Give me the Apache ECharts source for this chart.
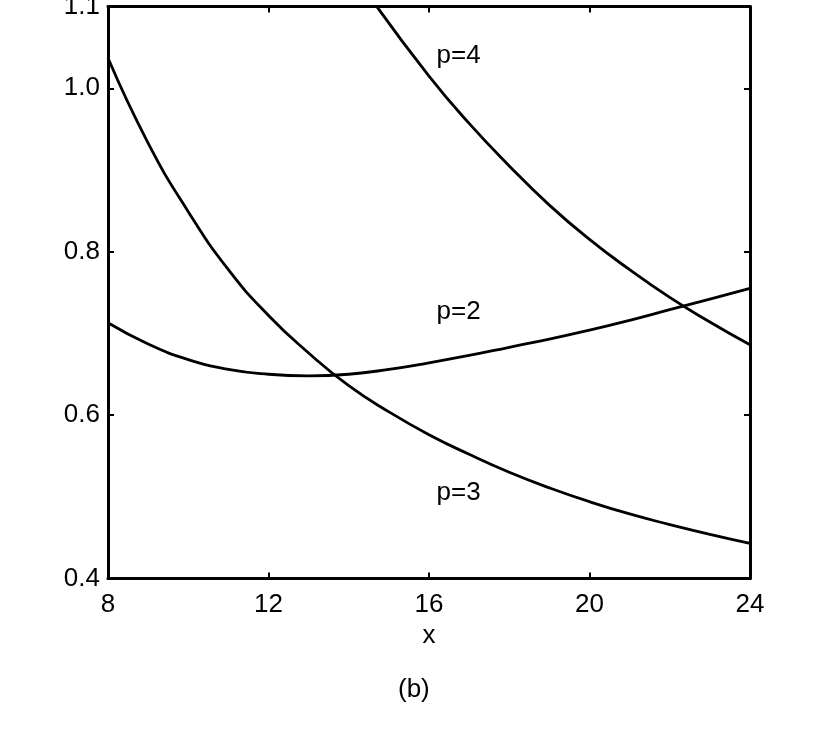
<!DOCTYPE html>
<html>
<head>
<meta charset="utf-8">
<script src="https://cdn.jsdelivr.net/npm/echarts@6/dist/echarts.min.js"></script>
<style>
html,body{margin:0;padding:0;background:#fff;}
#chart{width:828px;height:752px;}
</style>
</head>
<body>
<div id="chart"></div>
<script>
// x values and series values
var xP2 = [8, 9, 10, 11, 12, 13, 14, 15, 16, 17, 18, 19, 20, 21, 22, 23, 24];
var yP2 = [0.713, 0.687, 0.668, 0.656, 0.650, 0.648, 0.650, 0.656, 0.664, 0.673, 0.683, 0.693, 0.704, 0.716, 0.729, 0.742, 0.755];

var xP3 = [8, 9, 10, 11, 12, 13, 14, 15, 16, 17, 18, 19, 20, 21, 22, 23, 24];
var yP3 = [1.037, 0.933, 0.849, 0.778, 0.722, 0.676, 0.636, 0.604, 0.576, 0.552, 0.530, 0.511, 0.494, 0.479, 0.466, 0.454, 0.443];

var xP4 = [14.7, 16, 17, 18, 19, 20, 21, 22, 23, 24];
var yP4 = [1.1, 1.015, 0.957, 0.905, 0.857, 0.815, 0.778, 0.744, 0.714, 0.686];

// curve annotations
var labelNames = ['p=4', 'p=2', 'p=3'];
var labelX = [16.19, 16.19, 16.19];
var labelY = [1.040, 0.726, 0.505];

var xTickInterval = 4;
var yTickInterval = 0.2;

function pairs(xs, ys) { return xs.map(function (x, i) { return [x, ys[i]]; }); }

var FONT = '"Liberation Sans", Arial, Helvetica, sans-serif';
var axisLineStyle = { color: '#000', width: 3 };
var tickStyle = { color: '#000', width: 2 };

var chart = echarts.init(document.getElementById('chart'), null, { renderer: 'canvas' });
var curveStyle = { color: '#000', width: 2.8 };

chart.setOption({
  animation: false,
  backgroundColor: '#fff',
  title: {
    text: '(b)',
    left: 393,
    top: 672,
    textStyle: { fontFamily: FONT, fontSize: 26, fontWeight: 'normal', color: '#000' }
  },
  grid: { left: 108, top: 6.6, right: 78, bottom: 173.5, containLabel: false, outerBoundsMode: 'none' },
  xAxis: [{
    type: 'value', min: 8, max: 24, interval: xTickInterval, position: 'bottom',
    name: 'x', nameLocation: 'middle', nameGap: 37,
    nameTextStyle: { fontFamily: FONT, fontSize: 26, color: '#000' },
    axisLine: { show: true, onZero: false, lineStyle: axisLineStyle },
    axisTick: { show: true, inside: true, length: 6, lineStyle: tickStyle },
    axisLabel: { fontFamily: FONT, fontSize: 26, color: '#000', margin: 13 },
    splitLine: { show: false }
  }, {
    type: 'value', min: 8, max: 24, interval: xTickInterval, position: 'top',
    axisLine: { show: true, onZero: false, lineStyle: axisLineStyle },
    axisTick: { show: true, inside: true, length: 6, lineStyle: tickStyle },
    axisLabel: { show: false },
    splitLine: { show: false }
  }],
  yAxis: [{
    type: 'value', min: 0.4, max: 1.1, interval: yTickInterval, position: 'left',
    axisLine: { show: true, onZero: false, lineStyle: axisLineStyle },
    axisTick: { show: true, inside: true, length: 6, lineStyle: tickStyle },
    axisLabel: { fontFamily: FONT, fontSize: 26, color: '#000', margin: 8,
      formatter: function (v) { return v.toFixed(1); } },
    splitLine: { show: false }
  }, {
    type: 'value', min: 0.4, max: 1.1, interval: yTickInterval, position: 'right',
    axisLine: { show: true, onZero: false, lineStyle: axisLineStyle },
    axisTick: { show: true, inside: true, length: 6, lineStyle: tickStyle },
    axisLabel: { show: false },
    splitLine: { show: false }
  }],
  series: [
    { name: 'p=2', type: 'line', data: pairs(xP2, yP2), smooth: 0.5, showSymbol: false, lineStyle: curveStyle, clip: true },
    { name: 'p=3', type: 'line', data: pairs(xP3, yP3), smooth: 0.5, showSymbol: false, lineStyle: curveStyle, clip: true },
    { name: 'p=4', type: 'line', data: pairs(xP4, yP4), smooth: 0.5, showSymbol: false, lineStyle: curveStyle, clip: true },
    {
      name: 'labels', type: 'scatter', symbolSize: 0, silent: true,
      itemStyle: { opacity: 1 },
      data: labelNames.map(function (n, i) { return { name: n, value: [labelX[i], labelY[i]] }; }),
      label: { show: true, position: 'right', distance: 0, formatter: '{b}', opacity: 1,
        fontFamily: FONT, fontSize: 26, color: '#000' }
    }
  ]
});
</script>
</body>
</html>
